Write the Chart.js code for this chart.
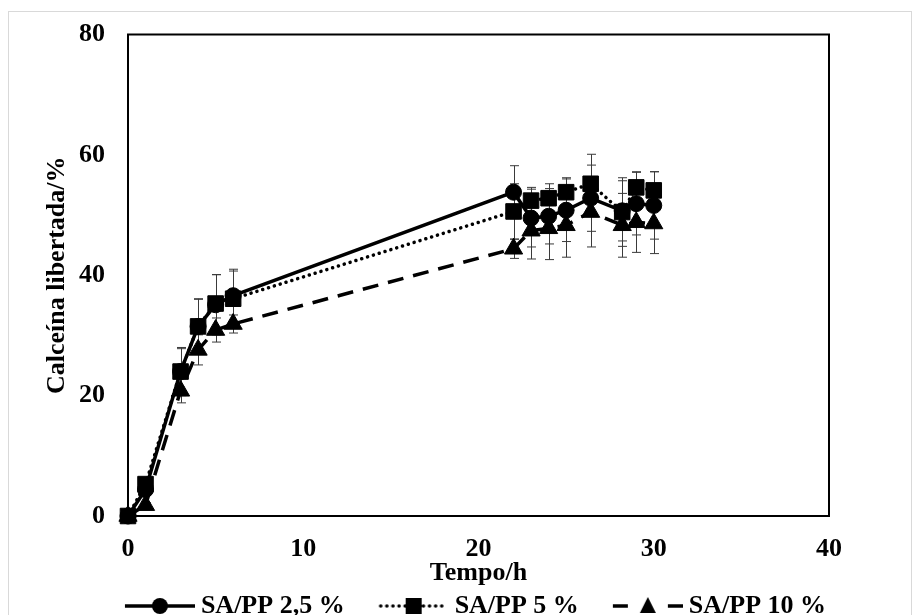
<!DOCTYPE html>
<html>
<head>
<meta charset="utf-8">
<script src="https://cdn.jsdelivr.net/npm/chart.js@4/dist/chart.umd.min.js"></script>
<style>
  html, body { margin: 0; padding: 0; background: #fff; }
  #wrap { width: 919px; height: 615px; }
</style>
</head>
<body>
<div id="wrap"><canvas id="chart" width="919" height="615"></canvas></div>
<script>
// -------------------------------------------------------------
// DATA
// -------------------------------------------------------------
const hours = [0, 1, 3, 4, 5, 6, 22, 23, 24, 25, 26.4, 28.2, 29, 30];

const sa25 = [0, 4.4, 24.0, 31.5, 35.1, 36.6, 53.8, 49.5, 49.8, 50.8, 52.8, 50.7, 51.9, 51.6];
const sa5 = [0, 5.3, 24.0, 31.5, 35.3, 36.1, 50.6, 52.4, 52.8, 53.8, 55.2, 50.5, 54.6, 54.1];
const sa10 = [0, 1.8, 20.8, 27.6, 30.9, 31.9, 44.4, 47.4, 47.8, 48.3, 50.5, 48.3, 48.8, 48.6];

const err25 = [0, 0.5, 3.8, 4.6, 5.0, 4.4, 4.4, 4.8, 4.6, 5.2, 5.5, 5.0, 5.2, 5.6];
const err5 = [0, 0.6, 4.0, 4.5, 4.8, 4.6, 4.6, 2.2, 2.4, 2.4, 4.9, 5.7, 2.6, 3.1];
const err10 = [0, 0.4, 2.0, 2.5, 2.0, 1.5, 1.6, 4.7, 5.2, 5.3, 5.8, 5.3, 5.0, 5.0];

const seriesNames = ["SA/PP 2,5 %", "SA/PP 5 %", "SA/PP 10 %"];
const xTicks = [0, 10, 20, 30, 40];
const yTicks = [0, 20, 40, 60, 80];

const FONT = { family: "'Liberation Serif', 'Times New Roman', serif", size: 26, weight: "bold" };

const pts = (ys) => hours.map((h, i) => ({ x: h, y: ys[i] }));

// -------------------------------------------------------------
// LEGEND ICONS (line sample + marker)
// -------------------------------------------------------------
function legendIcon(kind) {
  const W = 109, H = 26;
  const c = document.createElement("canvas");
  c.width = W; c.height = H;
  const g = c.getContext("2d");
  const x0 = W - 70, xm = W - 35, y = H / 2;
  g.strokeStyle = "#000";
  g.fillStyle = "#000";
  g.lineWidth = 3.5;

  if (kind === "circle") {
    g.beginPath(); g.moveTo(x0, y); g.lineTo(W, y); g.stroke();
    g.beginPath(); g.arc(xm, y, 8, 0, Math.PI * 2); g.fill();
  } else if (kind === "rect") {
    g.lineCap = "round";
    g.setLineDash([0.1, 6]);
    g.beginPath(); g.moveTo(x0 + 2, y); g.lineTo(W - 2, y); g.stroke();
    g.setLineDash([]);
    g.fillRect(xm - 8, y - 8, 16, 16);
  } else {
    g.beginPath(); g.moveTo(x0, y); g.lineTo(x0 + 15, y); g.stroke();
    g.beginPath(); g.moveTo(W - 15, y); g.lineTo(W, y); g.stroke();
    g.beginPath(); g.moveTo(xm, y - 9); g.lineTo(xm + 8, y + 7); g.lineTo(xm - 8, y + 7); g.closePath(); g.fill();
  }
  return c;
}

// -------------------------------------------------------------
// PLUGINS
// -------------------------------------------------------------
const frame = {
  id: "frame",
  beforeDraw(chart) {
    const ctx = chart.ctx;
    ctx.save();
    ctx.strokeStyle = "#d9d9d9";
    ctx.lineWidth = 1;
    ctx.strokeRect(8.5, 11.5, 903, 700);
    ctx.restore();
  },
  beforeDatasetsDraw(chart) {
    const { ctx, chartArea: a } = chart;
    ctx.save();
    ctx.strokeStyle = "#000";
    ctx.lineWidth = 2;
    ctx.strokeRect(a.left, a.top, a.right - a.left, a.bottom - a.top);
    ctx.restore();
  }
};

const errorBars = {
  id: "errorBars",
  beforeDatasetsDraw(chart) {
    const { ctx, scales: { x, y } } = chart;
    ctx.save();
    ctx.strokeStyle = "#3a3a3a";
    ctx.lineWidth = 1;
    chart.data.datasets.forEach((ds) => {
      ds.data.forEach((p, i) => {
        const e = ds.errors[i];
        if (!e) return;
        const px = Math.round(x.getPixelForValue(p.x)) + 0.5;
        const top = y.getPixelForValue(p.y + e);
        const bot = y.getPixelForValue(p.y - e);
        ctx.beginPath();
        ctx.moveTo(px, top); ctx.lineTo(px, bot);
        ctx.moveTo(px - 4.5, top); ctx.lineTo(px + 4.5, top);
        ctx.moveTo(px - 4.5, bot); ctx.lineTo(px + 4.5, bot);
        ctx.stroke();
      });
    });
    ctx.restore();
  }
};

// -------------------------------------------------------------
// CHART
// -------------------------------------------------------------
new Chart(document.getElementById("chart"), {
  type: "line",
  data: {
    datasets: [
      {
        label: seriesNames[0], data: pts(sa25), errors: err25,
        borderColor: "#000", backgroundColor: "#000", borderWidth: 3.5,
        pointStyle: "circle", pointRadius: 8, icon: legendIcon("circle")
      },
      {
        label: seriesNames[1], data: pts(sa5), errors: err5,
        borderColor: "#000", backgroundColor: "#000", borderWidth: 3.5,
        borderDash: [0.1, 6], borderCapStyle: "round",
        pointStyle: "rect", pointRadius: 11, icon: legendIcon("rect")
      },
      {
        label: seriesNames[2], data: pts(sa10), errors: err10,
        borderColor: "#000", backgroundColor: "#000", borderWidth: 3.5,
        borderDash: [16, 10],
        pointStyle: "triangle", pointRadius: 10.5, icon: legendIcon("triangle")
      }
    ].map(d => Object.assign(d, { tension: 0, clip: false, pointBorderWidth: 1, pointHoverRadius: d.pointRadius }))
  },
  options: {
    responsive: false,
    animation: false,
    layout: { padding: { top: 34.5, left: 0, right: 0, bottom: -14 } },
    plugins: {
      tooltip: { enabled: false },
      legend: {
        position: "bottom",
        labels: {
          usePointStyle: true,
          pointStyleWidth: 95,
          padding: 2,
          color: "#000",
          font: FONT,
          generateLabels(chart) {
            return chart.data.datasets.map((ds, i) => ({
              text: ds.label,
              pointStyle: ds.icon,
              fillStyle: "#000",
              strokeStyle: "#000",
              lineWidth: 0,
              fontColor: "#000",
              hidden: false,
              datasetIndex: i
            }));
          }
        }
      }
    },
    scales: {
      x: {
        type: "linear", min: 0, max: 40,
        afterBuildTicks: (s) => { s.ticks = xTicks.map(v => ({ value: v })); },
        afterFit: (s) => { s.height = 75; },
        grid: { display: false, drawTicks: false },
        border: { display: false },
        ticks: { color: "#000", font: FONT, padding: 18, maxRotation: 0 },
        title: { display: true, text: "Tempo/h", color: "#000", font: FONT, padding: { top: 0, bottom: 2 } }
      },
      y: {
        type: "linear", min: 0, max: 80,
        afterBuildTicks: (s) => { s.ticks = yTicks.map(v => ({ value: v })); },
        afterFit: (s) => { s.width = 128; s.paddingTop = 0; s.paddingBottom = 0; },
        grid: { display: false, drawTicks: false },
        border: { display: false },
        ticks: { color: "#000", font: FONT, padding: 23 },
        title: { display: true, text: "Calceína libertada/%", color: "#000", font: FONT, padding: { top: 42, bottom: 0 } }
      },
      yRight: {
        type: "linear", position: "right", min: 0, max: 1,
        afterFit: (s) => { s.width = 90; s.paddingTop = 0; s.paddingBottom = 0; },
        grid: { display: false, drawTicks: false },
        border: { display: false },
        ticks: { display: false }
      }
    }
  },
  plugins: [frame, errorBars]
});
</script>
</body>
</html>
